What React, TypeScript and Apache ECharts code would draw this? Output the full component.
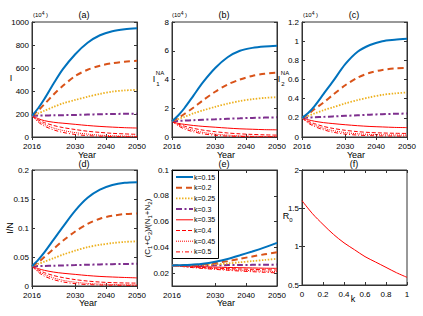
import React, { useEffect, useRef } from 'react';
import * as echarts from 'echarts';

const years = [2016, 2018, 2020, 2023, 2026, 2030, 2034, 2038, 2042, 2046, 2050];
const kLabels = ['k=0.15', 'k=0.2', 'k=0.25', 'k=0.3', 'k=0.35', 'k=0.4', 'k=0.45', 'k=0.5'];
const yearTicks = [2016, 2030, 2040, 2050];

// (a) I (x10^4)
const a015 = [185, 250, 330, 465, 590, 720, 820, 885, 920, 937, 945];
const a020 = [185, 230, 285, 370, 445, 530, 585, 620, 642, 655, 662];
const a025 = [185, 205, 228, 262, 292, 322, 350, 375, 395, 405, 410];
const a030 = [185, 186, 187, 189, 190, 192, 195, 198, 200, 202, 203];
const a035 = [185, 160, 142, 128, 120, 110, 100, 92, 86, 81, 78];
const a040 = [185, 150, 125, 100, 82, 65, 50, 40, 32, 27, 23];
const a045 = [185, 140, 110, 78, 57, 38, 25, 16, 11, 8, 6];
const a050 = [185, 130, 95, 62, 40, 22, 12, 7, 4, 3, 2];

// (b) I1NA (x10^4)
const b015 = [1.1, 1.5, 2.0, 2.9, 3.8, 4.8, 5.55, 6.0, 6.2, 6.3, 6.35];
const b020 = [1.1, 1.32, 1.6, 2.05, 2.55, 3.15, 3.65, 4.0, 4.25, 4.4, 4.47];
const b025 = [1.1, 1.25, 1.4, 1.65, 1.85, 2.1, 2.32, 2.5, 2.63, 2.72, 2.77];
const b030 = [1.1, 1.12, 1.14, 1.17, 1.2, 1.23, 1.27, 1.3, 1.33, 1.35, 1.37];
const b035 = [1.1, 0.95, 0.88, 0.8, 0.74, 0.68, 0.62, 0.57, 0.54, 0.51, 0.5];
const b040 = [1.1, 0.9, 0.76, 0.6, 0.48, 0.37, 0.28, 0.22, 0.18, 0.15, 0.13];
const b045 = [1.1, 0.85, 0.66, 0.46, 0.32, 0.2, 0.13, 0.08, 0.05, 0.04, 0.03];
const b050 = [1.1, 0.78, 0.56, 0.36, 0.22, 0.12, 0.06, 0.04, 0.02, 0.01, 0.01];

// (c) I2NA (x10^4)
const c015 = [0.2, 0.25, 0.32, 0.45, 0.58, 0.76, 0.89, 0.96, 1.0, 1.015, 1.025];
const c020 = [0.2, 0.24, 0.29, 0.36, 0.44, 0.54, 0.62, 0.67, 0.7, 0.715, 0.72];
const c025 = [0.2, 0.22, 0.245, 0.28, 0.31, 0.35, 0.385, 0.415, 0.44, 0.455, 0.465];
const c030 = [0.2, 0.203, 0.206, 0.21, 0.215, 0.221, 0.227, 0.233, 0.238, 0.242, 0.245];
const c035 = [0.2, 0.18, 0.165, 0.15, 0.14, 0.128, 0.118, 0.11, 0.105, 0.1, 0.098];
const c040 = [0.2, 0.165, 0.14, 0.11, 0.09, 0.07, 0.056, 0.047, 0.042, 0.039, 0.037];
const c045 = [0.2, 0.155, 0.125, 0.09, 0.067, 0.046, 0.034, 0.027, 0.023, 0.021, 0.02];
const c050 = [0.2, 0.145, 0.11, 0.075, 0.05, 0.03, 0.02, 0.014, 0.011, 0.01, 0.009];

// (d) I/N
const d015 = [0.034, 0.045, 0.058, 0.08, 0.102, 0.13, 0.152, 0.166, 0.174, 0.178, 0.179];
const d020 = [0.034, 0.041, 0.05, 0.064, 0.078, 0.094, 0.107, 0.116, 0.121, 0.124, 0.125];
const d025 = [0.034, 0.038, 0.042, 0.048, 0.054, 0.061, 0.067, 0.071, 0.074, 0.076, 0.077];
const d030 = [0.034, 0.0343, 0.0346, 0.035, 0.0355, 0.036, 0.0366, 0.0372, 0.0377, 0.038, 0.0383];
const d035 = [0.034, 0.03, 0.027, 0.024, 0.022, 0.02, 0.018, 0.0165, 0.0155, 0.0147, 0.014];
const d040 = [0.034, 0.028, 0.023, 0.018, 0.0145, 0.011, 0.0085, 0.0068, 0.0058, 0.0052, 0.005];
const d045 = [0.034, 0.026, 0.02, 0.014, 0.0098, 0.0065, 0.0045, 0.0033, 0.0026, 0.0022, 0.002];
const d050 = [0.034, 0.024, 0.017, 0.011, 0.007, 0.004, 0.0025, 0.0017, 0.0013, 0.0011, 0.001];

// (e) (C1+C2)/(N1+N2)
const e015 = [0.026, 0.0261, 0.0263, 0.0266, 0.0272, 0.0288, 0.031, 0.0338, 0.0368, 0.04, 0.0435];
const e020 = [0.026, 0.026, 0.0261, 0.0263, 0.0267, 0.0278, 0.0293, 0.0311, 0.0329, 0.0346, 0.0362];
const e025 = [0.026, 0.026, 0.026, 0.0261, 0.0263, 0.0268, 0.0275, 0.0284, 0.0293, 0.0302, 0.0311];
const e030 = [0.026, 0.026, 0.026, 0.026, 0.026, 0.0261, 0.0262, 0.0263, 0.0264, 0.0265, 0.0266];
const e035 = [0.026, 0.0258, 0.0256, 0.0253, 0.025, 0.0247, 0.0244, 0.0242, 0.024, 0.0238, 0.0237];
const e040 = [0.026, 0.0257, 0.0253, 0.0248, 0.0244, 0.0239, 0.0235, 0.0232, 0.0229, 0.0226, 0.0224];
const e045 = [0.026, 0.0256, 0.0251, 0.0245, 0.024, 0.0234, 0.0228, 0.0223, 0.0219, 0.0215, 0.0212];
const e050 = [0.026, 0.0255, 0.0249, 0.0242, 0.0236, 0.0229, 0.0222, 0.0216, 0.0211, 0.0206, 0.0202];

// (f) R0 vs k
const kValues = [0, 0.1, 0.2, 0.3, 0.4, 0.5, 0.6, 0.7, 0.8, 0.9, 1];
const r0Values = [1.6, 1.43, 1.29, 1.16, 1.05, 0.96, 0.87, 0.8, 0.73, 0.66, 0.6];

const panelData = [
  [a015, a020, a025, a030, a035, a040, a045, a050],
  [b015, b020, b025, b030, b035, b040, b045, b050],
  [c015, c020, c025, c030, c035, c040, c045, c050],
  [d015, d020, d025, d030, d035, d040, d045, d050],
  [e015, e020, e025, e030, e035, e040, e045, e050],
];

const FONT = "'Liberation Sans', Arial, sans-serif";

const lineStyles: any[] = [
  { color: '#0072BD', width: 2, type: 'solid' },
  { color: '#D95319', width: 2, type: [6, 4] },
  { color: '#EDB120', width: 1.8, type: [1.5, 1.5] },
  { color: '#7E2F8E', width: 2, type: [6, 2.5, 2, 2.5] },
  { color: '#FF0000', width: 1, type: 'solid' },
  { color: '#FF0000', width: 1, type: [4, 2] },
  { color: '#FF0000', width: 1, type: [1, 1] },
  { color: '#FF0000', width: 1, type: [4, 2, 1, 2] },
];

const grids = [
  { left: 32, top: 22, width: 105, height: 115 },
  { left: 172, top: 22, width: 105, height: 115 },
  { left: 302, top: 22, width: 105, height: 115 },
  { left: 32, top: 170, width: 105, height: 116 },
  { left: 172, top: 170, width: 105, height: 116 },
  { left: 302, top: 170, width: 105, height: 115 },
];

const yRanges: any[] = [
  { min: 0, max: 1000, interval: 200 },
  { min: 0, max: 8, interval: 2 },
  { min: 0, max: 1.2, interval: 0.2 },
  { min: 0, max: 0.2, interval: 0.05 },
  { min: 0.01, max: 0.1, custom: [0.02, 0.04, 0.06, 0.08, 0.1] },
  { min: 0.5, max: 2, interval: 0.5 },
];

function txt(text: string, x: number, y: number, extra: any = {}) {
  return {
    type: 'text',
    x,
    y,
    z: 100,
    rotation: extra.rotation || 0,
    style: {
      text,
      fontSize: extra.fontSize || 9,
      fontFamily: FONT,
      fill: '#000',
      align: extra.align || 'center',
      textAlign: extra.align || 'center',
      verticalAlign: 'middle',
      textVerticalAlign: 'middle',
      rich: extra.rich,
    },
  };
}

const fmt = (v: number) => String(Math.round(v * 10000) / 10000);

export default function App() {
  const ref = useRef<HTMLDivElement>(null);
  useEffect(() => {
    const chart = echarts.init(ref.current!, null, { renderer: 'svg' });
    const axisLabel = { fontSize: 8, fontFamily: FONT, color: '#000', formatter: fmt };
    const tick = { show: true, inside: true, length: 3, lineStyle: { color: '#333' } };
    const xAxis: any[] = [];
    const yAxis: any[] = [];
    const mkX = (i: number, pos: string) => {
      const isF = i === 5;
      const ax: any = {
        type: 'value',
        gridIndex: i,
        position: pos,
        min: isF ? 0 : 2016,
        max: isF ? 1 : 2050,
        splitLine: { show: false },
        axisLine: { show: true, lineStyle: { color: '#333', width: 1 } },
        axisTick: isF ? { ...tick } : { ...tick, customValues: yearTicks },
        axisLabel:
          pos === 'top'
            ? { show: false }
            : isF
            ? { ...axisLabel, margin: 5 }
            : { ...axisLabel, margin: 5, customValues: yearTicks },
      };
      if (isF) ax.interval = 0.2;
      return ax;
    };
    const mkY = (i: number, pos: string) => {
      const r = yRanges[i];
      const ax: any = {
        type: 'value',
        gridIndex: i,
        position: pos,
        min: r.min,
        max: r.max,
        splitLine: { show: false },
        axisLine: { show: true, lineStyle: { color: '#333', width: 1 } },
        axisTick: r.custom ? { ...tick, customValues: r.custom } : { ...tick },
        axisLabel:
          pos === 'right'
            ? { show: false }
            : r.custom
            ? { ...axisLabel, margin: 3, customValues: r.custom }
            : { ...axisLabel, margin: 3 },
      };
      if (r.interval) ax.interval = r.interval;
      return ax;
    };
    grids.forEach((g, i) => {
      xAxis.push(mkX(i, 'bottom'));
      yAxis.push(mkY(i, 'left'));
    });
    grids.forEach((g, i) => {
      xAxis.push(mkX(i, 'top'));
      yAxis.push(mkY(i, 'right'));
    });

    const series: any[] = [];
    panelData.forEach((arrs, p) => {
      arrs.forEach((arr, k) => {
        series.push({
          type: 'line',
          name: kLabels[k],
          xAxisIndex: p,
          yAxisIndex: p,
          data: years.map((yr, j) => [yr, arr[j]]),
          smooth: 0.3,
          symbol: 'none',
          showSymbol: false,
          lineStyle: lineStyles[k],
          itemStyle: { color: lineStyles[k].color },
          z: 10 - k,
        });
      });
    });
    series.push({
      type: 'line',
      name: 'R0',
      xAxisIndex: 5,
      yAxisIndex: 5,
      data: kValues.map((k, j) => [k, r0Values[j]]),
      smooth: 0.3,
      symbol: 'none',
      showSymbol: false,
      lineStyle: { color: '#FF0000', width: 1 },
    });

    const sub = { fontSize: 6, fontFamily: FONT, lineHeight: 7, verticalAlign: 'bottom' };
    const nrm = { fontSize: 8, fontFamily: FONT, lineHeight: 12, verticalAlign: 'middle' };
    const sup = { fontSize: 5, fontFamily: FONT, lineHeight: 6, verticalAlign: 'top' };
    const tenRich = { p: { fontSize: 6, fontFamily: FONT, lineHeight: 9, verticalAlign: 'middle' }, s: sup };

    // manual legend inside panel (e)
    const lgLeft = 172;
    const lgTop = 170;
    const lgW = 46;
    const lgH = 88;
    const legendEls: any[] = [
      {
        type: 'rect',
        z: 90,
        shape: { x: lgLeft + 0.5, y: lgTop + 0.5, width: lgW, height: lgH },
        style: { fill: '#fff', stroke: '#000', lineWidth: 1 },
      },
    ];
    kLabels.forEach((lab, k) => {
      const cy = lgTop + 7 + k * 10.7;
      const ls = lineStyles[k];
      legendEls.push({
        type: 'line',
        z: 95,
        shape: { x1: lgLeft + 4, y1: cy, x2: lgLeft + 21, y2: cy },
        style: {
          stroke: ls.color,
          lineWidth: ls.width,
          lineDash: Array.isArray(ls.type) ? ls.type : null,
        },
      });
      legendEls.push(txt(lab, lgLeft + 22, cy, { align: 'left', fontSize: 7 }));
    });

    const graphic: any[] = [
      ...legendEls,
      txt('(a)', 84, 15),
      txt('(b)', 224, 15),
      txt('(c)', 354, 15),
      txt('(d)', 84, 164),
      txt('(e)', 224, 164),
      txt('(f)', 354, 164),
      txt('{p|(10}{s|4}{p| )}', 33, 15, { align: 'left', rich: tenRich }),
      txt('{p|(10}{s|4}{p| )}', 172, 15, { align: 'left', rich: tenRich }),
      txt('{p|(10}{s|4}{p| )}', 303, 15, { align: 'left', rich: tenRich }),
      txt('Year', 87, 155),
      txt('Year', 226, 155),
      txt('Year', 356, 155),
      txt('Year', 88, 303),
      txt('Year', 226, 303),
      txt('k', 353, 299),
      txt('I', 11, 78),
      txt('I', 154, 79),
      txt('NA', 160, 73, { fontSize: 6 }),
      txt('1', 158, 84, { fontSize: 6 }),
      txt('I', 279, 79),
      txt('NA', 285, 73, { fontSize: 6 }),
      txt('2', 283, 84, { fontSize: 6 }),
      txt('I/N', 10, 228, { rotation: Math.PI / 2 }),
      txt('{n|(C}{s|1}{n|+C}{s|2}{n|)/(N}{s|1}{n|+N}{s|2}{n|)}', 147, 228, {
        rotation: Math.PI / 2,
        rich: { n: nrm, s: sub },
      }),
      txt('R', 286, 216),
      txt('0', 291, 220, { fontSize: 6 }),
    ];

    chart.setOption({
      animation: false,
      grid: grids.map((g) => ({ ...g, show: true, borderColor: '#333', borderWidth: 1, backgroundColor: 'transparent' })),
      xAxis,
      yAxis,
      series,
      graphic,
    });
    return () => chart.dispose();
  }, []);
  return (
    <div
      ref={ref}
      style={{ position: 'absolute', left: 0, top: 0, width: 423, height: 316, background: '#fff' }}
    />
  );
}
